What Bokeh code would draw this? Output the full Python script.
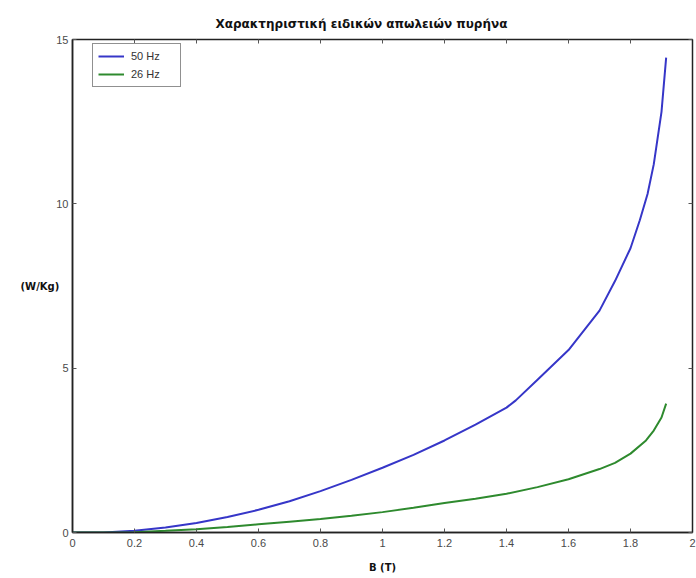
from bokeh.plotting import figure
from bokeh.models import LinearAxis, Legend, LegendItem, FixedTicker
from bokeh.embed import file_html
from bokeh.resources import INLINE

# Core loss vs flux density, sampled points
b_50 = [0.0, 0.1, 0.2, 0.3, 0.4, 0.5, 0.6, 0.7, 0.8, 0.9, 1.0, 1.1, 1.2, 1.3, 1.4, 1.43,
        1.5, 1.6, 1.7, 1.75, 1.8, 1.83, 1.855, 1.875, 1.9, 1.915]
loss_50 = [0.0, 0.0, 0.05, 0.15, 0.29, 0.47, 0.69, 0.95, 1.26, 1.6, 1.97, 2.36, 2.8, 3.28, 3.8, 4.02,
           4.65, 5.55, 6.75, 7.65, 8.65, 9.5, 10.3, 11.2, 12.8, 14.45]

b_26 = [0.0, 0.1, 0.2, 0.3, 0.4, 0.5, 0.6, 0.7, 0.8, 0.9, 1.0, 1.1, 1.2, 1.3, 1.4, 1.5, 1.6,
        1.7, 1.75, 1.8, 1.85, 1.875, 1.9, 1.915]
loss_26 = [0.0, 0.0, 0.01, 0.05, 0.1, 0.17, 0.25, 0.33, 0.41, 0.51, 0.62, 0.75, 0.9, 1.03, 1.18, 1.38, 1.62,
           1.93, 2.12, 2.4, 2.8, 3.1, 3.5, 3.92]

series_labels = ["50 Hz", "26 Hz"]
x_ticks = [0, 0.2, 0.4, 0.6, 0.8, 1, 1.2, 1.4, 1.6, 1.8, 2]
y_ticks = [0, 5, 10, 15]

BLUE = "#3636c8"
GREEN = "#2e8a2e"
FRAME = "#222222"
TICK_TXT = "#4a4a4a"

p = figure(width=696, height=578, x_range=(0, 2), y_range=(0, 15),
           output_backend="svg", toolbar_location=None,
           min_border_left=72, min_border_right=4, min_border_top=39, min_border_bottom=46,
           title="Χαρακτηριστική ειδικών απωλειών πυρήνα")
p.title.align = "left"
p.title.offset = 143
p.title.text_font = "DejaVu Sans"
p.title.text_font_size = "12px"
p.title.text_font_style = "bold"
p.title.text_color = "#111111"
p.title.standoff = 17

p.outline_line_color = FRAME
p.outline_line_width = 1.5
p.xgrid.grid_line_color = None
p.ygrid.grid_line_color = None

for ax in (p.xaxis[0], p.yaxis[0]):
    ax.axis_line_color = FRAME
    ax.axis_line_width = 1.5
    ax.major_tick_in = 4
    ax.major_tick_out = 0
    ax.major_tick_line_color = "#555555"
    ax.minor_tick_line_color = None
    ax.major_label_text_font = "Liberation Sans"
    ax.major_label_text_font_size = "11px"
    ax.major_label_text_color = TICK_TXT

p.xaxis[0].ticker = FixedTicker(ticks=x_ticks)
p.yaxis[0].ticker = FixedTicker(ticks=y_ticks)
p.xaxis[0].major_label_standoff = 6
p.yaxis[0].major_label_standoff = 4
p.xaxis[0].axis_label = "B (T)"
p.xaxis[0].axis_label_text_font = "DejaVu Sans"
p.xaxis[0].axis_label_text_font_size = "10px"
p.xaxis[0].axis_label_text_font_style = "bold"
p.xaxis[0].axis_label_text_color = "#111111"
p.xaxis[0].axis_label_standoff = 12

# horizontal y-axis label
yax = p.yaxis[0]
yax.axis_label = "(W/Kg)"
yax.axis_label_text_font = "DejaVu Sans"
yax.axis_label_text_font_size = "10px"
yax.axis_label_text_font_style = "bold"
yax.axis_label_text_color = "#111111"
yax.axis_label_standoff = -6
yax.axis_label_orientation = "horizontal"

# tick marks on the opposite sides of the box
def box_axis(ticks):
    return LinearAxis(ticker=FixedTicker(ticks=ticks), major_tick_in=4, major_tick_out=0,
                      major_label_text_font_size="1px", major_label_text_color=None,
                      major_label_standoff=0, axis_line_color=FRAME,
                      major_tick_line_color="#555555", minor_tick_line_color=None)

p.add_layout(box_axis(x_ticks), "above")
p.add_layout(box_axis(y_ticks), "right")

r50 = p.line(b_50, loss_50, line_color=BLUE, line_width=2)
r26 = p.line(b_26, loss_26, line_color=GREEN, line_width=2)

legend = Legend(items=[LegendItem(label=series_labels[0], renderers=[r50]),
                       LegendItem(label=series_labels[1], renderers=[r26])],
                location=(20, 445), border_line_color=FRAME, border_line_width=1.2,
                padding=5, spacing=4, glyph_width=26, glyph_height=14,
                label_standoff=7, label_width=44, label_height=14,
                label_text_font="Liberation Sans", label_text_font_size="11px",
                label_text_color="#333333", margin=0, background_fill_alpha=1)
p.add_layout(legend, "center")

open("out.html", "w").write(file_html(p, INLINE))
